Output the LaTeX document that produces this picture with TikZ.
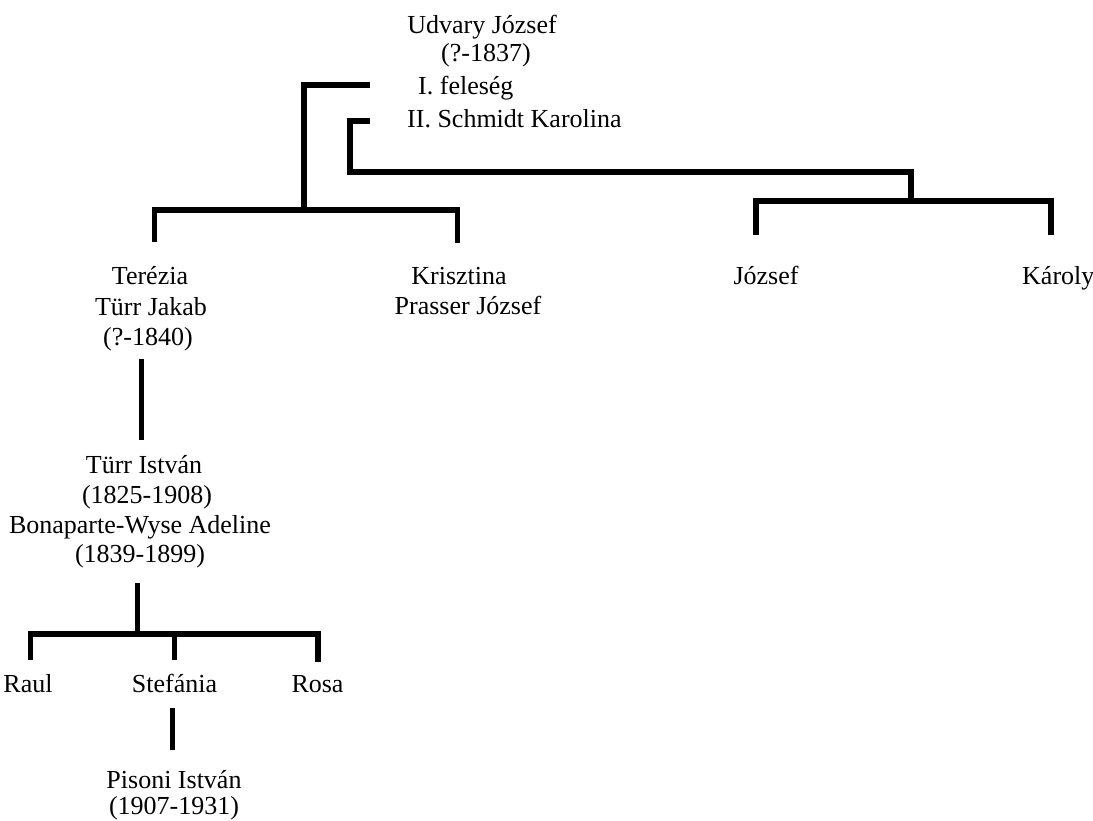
\documentclass[tikz,border=0pt]{standalone}
\usepackage{fontspec}
\setmainfont{Liberation Serif}
\begin{document}
\begin{tikzpicture}[x=1pt,y=-1pt,
  bar/.style={line width=5.5pt, line join=miter, line cap=butt},
  lbl/.style={font=\fontsize{26}{30}\selectfont, inner sep=0pt, anchor=base},
  lblw/.style={lbl, anchor=base west}]
\useasboundingbox (0,0) rectangle (1093,821);
\clip (0,0) rectangle (1093,821);
\fill[white] (0,0) rectangle (1093,821);
% texts
\node[lbl] (udv1) at (482,34) {Udvary József};
\node[lbl] (udv2) at (486,62) {(?-1837)};
\node[lblw] (w1) at (418,95) {I. feleség};
\node[lblw] (w2) at (407,128) {II. Schmidt Karolina};
\node[lbl] (ter1) at (150,285) {Terézia};
\node[lbl] (ter2) at (151,316) {Türr Jakab};
\node[lbl] (ter3) at (148,345) {(?-1840)};
\node[lbl] (kri1) at (459,285) {Krisztina};
\node[lbl] (kri2) at (468,315) {Prasser József};
\node[lbl] (jozs) at (766,285) {József};
\node[lblw] (karoly) at (1022,285) {Károly};
\node[lbl] (tur1) at (144,473) {Türr István};
\node[lbl] (tur2) at (147,503) {(1825-1908)};
\node[lbl] (tur3) at (140,533) {Bonaparte-Wyse Adeline};
\node[lbl] (tur4) at (140,562) {(1839-1899)};
\node[lbl] (raul) at (28,692) {Raul};
\node[lbl] (stef) at (174.5,692) {Stefánia};
\node[lbl] (rosa) at (317.5,692) {Rosa};
\node[lbl] (pis1) at (174,788) {Pisoni István};
\node[lbl] (pis2) at (174,814) {(1907-1931)};
% junction coordinates
\coordinate (w1e) at (370,85);
\coordinate (w1c) at (304,85);
\coordinate (w1b) at (304,210);
\coordinate (w2e) at (370,121);
\coordinate (w2c) at (350,121);
\coordinate (w2b) at (350,172);
\coordinate (w2r) at (911,172);
\coordinate (w2d) at (911,201);
\coordinate (ca) at (154.5,210);
\coordinate (cab) at (154.5,242);
\coordinate (cb) at (457.5,210);
\coordinate (cbb) at (457.5,243);
\coordinate (cc) at (756,201);
\coordinate (ccb) at (756,235);
\coordinate (cd) at (1051,201);
\coordinate (cdb) at (1051,235);
\coordinate (t1) at (141.5,359);
\coordinate (t2) at (141.5,440);
\coordinate (s1) at (137.5,583);
\coordinate (s2) at (137.5,634);
\coordinate (k1) at (30.5,634);
\coordinate (k1b) at (30.5,660);
\coordinate (k2) at (174.5,634);
\coordinate (k2b) at (174.5,660);
\coordinate (k3) at (318,634);
\coordinate (k3b) at (318,662);
\coordinate (p1) at (172.5,708);
\coordinate (p2) at (172.5,750);
% connectors
\draw[bar] (w1e) -- (w1c) -- (w1b);
\draw[bar] (cab) -- (ca) -- (cb) -- (cbb);
\draw[bar] (w2e) -- (w2c) -- (w2b) -- (w2r) -- (w2d);
\draw[bar] (ccb) -- (cc) -- (cd) -- (cdb);
\draw[bar] (t1) -- (t2);
\draw[bar] (s1) -- (s2);
\draw[bar] (k1b) -- (k1) -- (k3) -- (k3b);
\draw[bar] (k2) -- (k2b);
\draw[bar] (p1) -- (p2);
\end{tikzpicture}
\end{document}
